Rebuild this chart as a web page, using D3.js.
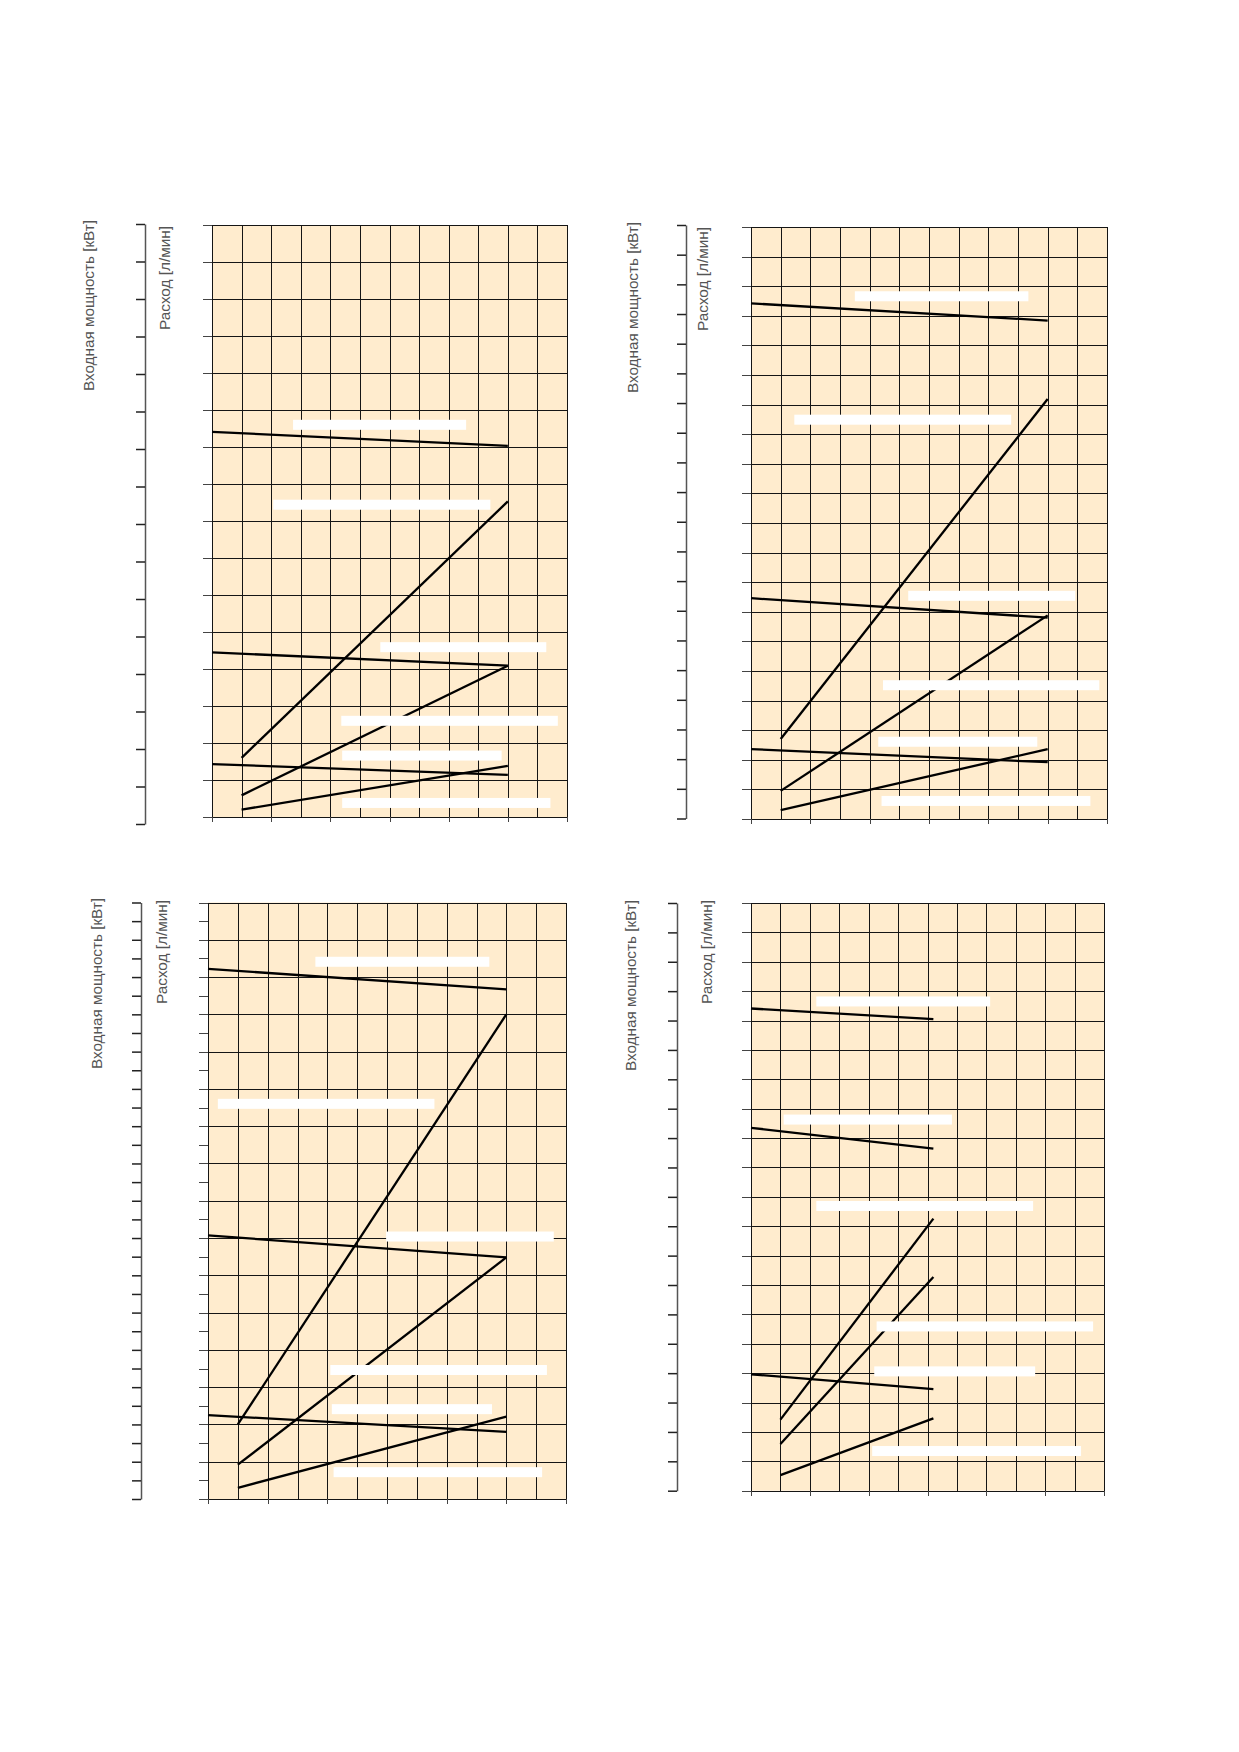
<!DOCTYPE html>
<html>
<head>
<meta charset="utf-8">
<script src="https://cdn.jsdelivr.net/npm/d3@7"></script>
<style>
  html, body { margin: 0; padding: 0; background: #fff; }
  svg { display: block; }
  .grid line { stroke: #151515; stroke-width: 1; shape-rendering: crispEdges; }
  .ticks line { stroke: #444; stroke-width: 1; shape-rendering: crispEdges; }
  .outer path { stroke: #555; stroke-width: 1.5; }
  .outer line { stroke: #222; stroke-width: 1.5; }
  .curve { fill: none; stroke: #000; stroke-width: 2.3; }
  .ylab { font-family: "Liberation Sans", Arial, sans-serif; font-size: 15px; fill: #555; }
</style>
</head>
<body>
<svg id="chart" width="1239" height="1752"></svg>
<script>
// axis titles
var powerLabel = "Входная мощность [кВт]";
var flowLabel = "Расход [л/мин]";

// curves per panel, in grid units: [[x0, y0], [x1, y1]]
var chart1Curves = [
  [[0, 10.41], [10, 10.03]],
  [[1, 1.60], [10, 8.53]],
  [[0, 4.45], [10, 4.09]],
  [[1, 0.585], [10, 4.09]],
  [[0, 1.43], [10, 1.14]],
  [[1, 0.20], [10, 1.38]]
];
var chart2Curves = [
  [[0, 17.42], [10, 16.84]],
  [[1, 2.70], [10, 14.19]],
  [[0, 7.46], [10, 6.80]],
  [[1, 0.95], [10, 6.88]],
  [[0, 2.36], [10, 1.92]],
  [[1, 0.30], [10, 2.36]]
];
var chart3Curves = [
  [[0, 14.22], [10, 13.67]],
  [[1, 2.00], [10, 13.00]],
  [[0, 7.07], [10, 6.48]],
  [[1, 0.92], [10, 6.48]],
  [[0, 2.25], [10, 1.80]],
  [[1, 0.30], [10, 2.21]]
];
var chart4Curves = [
  [[0, 16.41], [6.2, 16.05]],
  [[0, 12.35], [6.2, 11.64]],
  [[1, 2.42], [6.2, 9.26]],
  [[1, 1.59], [6.2, 7.27]],
  [[0, 3.96], [6.2, 3.46]],
  [[1, 0.53], [6.2, 2.46]]
];

// blanked curve labels (white bars): [xStart, xEnd, y] in grid units
var chart1Labels = [
  [2.74, 8.59, 10.60], [2.07, 9.41, 8.44], [5.69, 11.30, 4.59],
  [4.37, 11.69, 2.60], [4.40, 9.79, 1.66], [4.40, 11.44, 0.38]
];
var chart2Labels = [
  [3.50, 9.35, 17.66], [1.46, 8.77, 13.49], [5.30, 10.93, 7.54],
  [4.45, 11.74, 4.52], [4.29, 9.65, 2.61], [4.40, 11.44, 0.61]
];
var chart3Labels = [
  [3.60, 9.43, 14.41], [0.33, 7.59, 10.60], [5.97, 11.59, 7.04],
  [4.10, 11.36, 3.46], [4.15, 9.52, 2.41], [4.21, 11.20, 0.72]
];
var chart4Labels = [
  [2.22, 8.13, 16.65], [1.11, 6.83, 12.63], [2.22, 9.59, 9.69],
  [4.27, 11.63, 5.59], [4.19, 9.66, 4.06], [4.12, 11.22, 1.35]
];

// grid columns / rows and tick counts per panel
var gridCols = 12;
var bottomTicks = [0, 2, 4, 6, 8, 10, 12];
var panelRows = [16, 20, 16, 20];
var flowTickCounts = [16, 20, 32, 20];
var powerTickCounts = [16, 20, 32, 20];

// panel placement on the page (pixels)
var panels = [
  {left: 212, right: 567, top: 225, bottom: 817, outerX: 145, outerTop: 224, outerBottom: 824,
   lab1: [89, 220], lab2: [165, 226], curves: chart1Curves, labels: chart1Labels},
  {left: 751, right: 1107, top: 227, bottom: 819, outerX: 686, outerTop: 225, outerBottom: 818.5,
   lab1: [633, 222], lab2: [703, 227], curves: chart2Curves, labels: chart2Labels},
  {left: 208, right: 566, top: 902.5, bottom: 1499, outerX: 141, outerTop: 902.5, outerBottom: 1499,
   lab1: [97, 898], lab2: [162, 900], curves: chart3Curves, labels: chart3Labels},
  {left: 751, right: 1104, top: 903, bottom: 1490.7, outerX: 677, outerTop: 903, outerBottom: 1490.7,
   lab1: [631, 900], lab2: [707, 900], curves: chart4Curves, labels: chart4Labels}
];

var svg = d3.select("#chart");

panels.forEach(function(p, i) {
  var rows = panelRows[i];
  var w = p.right - p.left;
  var h = p.bottom - p.top;

  var x = d3.scaleLinear().domain([0, gridCols]).range([p.left, p.right]);
  var y = d3.scaleLinear().domain([0, rows]).range([p.bottom, p.top]);
  var yFlow = d3.scaleLinear().domain([0, flowTickCounts[i]]).range([p.bottom, p.top]);
  var yPower = d3.scaleLinear().domain([0, powerTickCounts[i]]).range([p.outerBottom, p.outerTop]);

  var g = svg.append("g");

  // paper background
  g.append("rect")
    .attr("x", p.left).attr("y", p.top)
    .attr("width", w).attr("height", h)
    .attr("fill", "#ffecce");

  // vertical grid
  g.append("g")
    .attr("class", "grid")
    .attr("transform", "translate(0," + p.bottom + ")")
    .call(d3.axisBottom(x).tickValues(d3.range(gridCols + 1)).tickSize(-h).tickFormat(""))
    .call(function(s) { s.select(".domain").remove(); });

  // horizontal grid
  g.append("g")
    .attr("class", "grid")
    .attr("transform", "translate(" + p.left + ",0)")
    .call(d3.axisLeft(y).tickValues(d3.range(rows + 1)).tickSize(-w).tickFormat(""))
    .call(function(s) { s.select(".domain").remove(); });

  // short ticks under the x axis
  g.append("g")
    .attr("class", "ticks")
    .attr("transform", "translate(0," + p.bottom + ")")
    .call(d3.axisBottom(x).tickValues(bottomTicks).tickSize(5).tickFormat(""))
    .call(function(s) { s.select(".domain").remove(); });

  // flow axis ticks (next to the grid)
  g.append("g")
    .attr("class", "ticks")
    .attr("transform", "translate(" + p.left + ",0)")
    .call(d3.axisLeft(yFlow).tickValues(d3.range(flowTickCounts[i] + 1)).tickSize(9).tickFormat(""))
    .call(function(s) { s.select(".domain").remove(); });

  // power axis (outer)
  g.append("g")
    .attr("class", "outer")
    .attr("transform", "translate(" + p.outerX + ",0)")
    .call(d3.axisLeft(yPower).tickValues(d3.range(powerTickCounts[i] + 1)).tickSize(9).tickSizeOuter(0).tickFormat(""));

  // curves
  var line = d3.line()
    .x(function(d) { return x(d[0]); })
    .y(function(d) { return y(d[1]); });

  g.selectAll(".curve")
    .data(p.curves)
    .enter().append("path")
    .attr("class", "curve")
    .attr("d", line);

  // blanked labels
  g.selectAll(".blank")
    .data(p.labels)
    .enter().append("rect")
    .attr("class", "blank")
    .attr("x", function(d) { return x(d[0]); })
    .attr("width", function(d) { return x(d[1]) - x(d[0]); })
    .attr("y", function(d) { return y(d[2]) - 5; })
    .attr("height", 10)
    .attr("fill", "#fff");

  // axis titles
  g.append("text")
    .attr("class", "ylab")
    .attr("transform", "translate(" + p.lab1[0] + "," + p.lab1[1] + ") rotate(-90)")
    .attr("text-anchor", "end")
    .attr("dy", "0.35em")
    .attr("textLength", 171)
    .attr("lengthAdjust", "spacingAndGlyphs")
    .text(powerLabel);

  g.append("text")
    .attr("class", "ylab")
    .attr("transform", "translate(" + p.lab2[0] + "," + p.lab2[1] + ") rotate(-90)")
    .attr("text-anchor", "end")
    .attr("dy", "0.35em")
    .attr("textLength", 104)
    .attr("lengthAdjust", "spacingAndGlyphs")
    .text(flowLabel);
});
</script>
</body>
</html>
